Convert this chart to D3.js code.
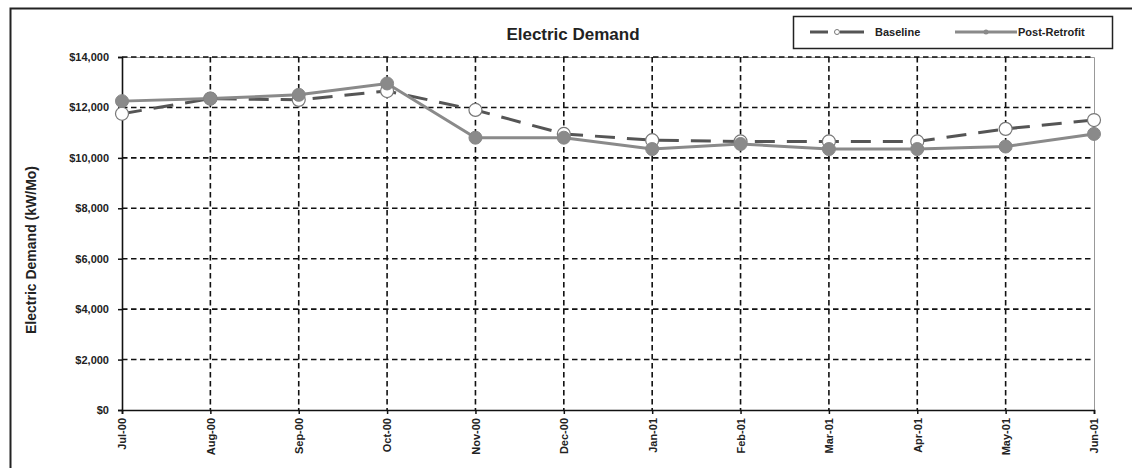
<!DOCTYPE html>
<html><head><meta charset="utf-8">
<script src="https://cdn.jsdelivr.net/npm/d3@7"></script>
<style>body{margin:0;background:#fff;} text{font-family:Arial,"Liberation Sans",sans-serif;}</style>
</head><body>
<svg id="c" width="1132" height="470"></svg>
<script>
const months = ["Jul-00","Aug-00","Sep-00","Oct-00","Nov-00","Dec-00","Jan-01","Feb-01","Mar-01","Apr-01","May-01","Jun-01"];
const baseline = [11750, 12350, 12300, 12650, 11900, 10950, 10700, 10650, 10650, 10650, 11150, 11500];
const postRetrofit = [12250, 12350, 12500, 12950, 10800, 10800, 10350, 10550, 10350, 10350, 10450, 10950];
const yTicks = [0, 2000, 4000, 6000, 8000, 10000, 12000, 14000];

const svg = d3.select("#c");
const L = 122, R = 1094, T = 57, B = 410;
const x = d3.scalePoint().domain(months).range([L, R]);
const y = d3.scaleLinear().domain([0, 14000]).range([B, T]);

// outer frame
svg.append("path").attr("d", "M10.5,468 V8.5 H1132").attr("fill","none").attr("stroke","#222").attr("stroke-width",2);

// plot border top/right
svg.append("path").attr("d", `M${L},${T+0.5} H${R+0.5} V${B}`).attr("fill","none").attr("stroke","#999").attr("stroke-width",1);

// gridlines
svg.append("g").selectAll("line").data(yTicks.filter(d=>d>0)).join("line")
  .attr("x1", L).attr("x2", R).attr("y1", d=>y(d)).attr("y2", d=>y(d))
  .attr("stroke","#111").attr("stroke-width",1.6).attr("stroke-dasharray","5.5,3.5");
svg.append("g").selectAll("line").data(months.slice(1, -1)).join("line")
  .attr("x1", d=>x(d)).attr("x2", d=>x(d)).attr("y1", T).attr("y2", B)
  .attr("stroke","#111").attr("stroke-width",1.6).attr("stroke-dasharray","5.5,3.5");

// axes
const yAxis = d3.axisLeft(y).tickValues(yTicks).tickSize(4).tickFormat(d => "$" + d3.format(",")(d));
const gy = svg.append("g").attr("transform", `translate(${L},0)`).call(yAxis);
gy.select(".domain").attr("stroke","#111").attr("stroke-width",1.6);
gy.selectAll(".tick line").attr("stroke","#111").attr("stroke-width",1.5);
gy.selectAll(".tick text").attr("x",-13).attr("font-size","11px").attr("font-weight","bold").attr("fill","#222");

const xAxis = d3.axisBottom(x).tickSize(4);
const gx = svg.append("g").attr("transform", `translate(0,${B})`).call(xAxis);
gx.select(".domain").attr("stroke","#111").attr("stroke-width",1.6);
gx.selectAll(".tick line").attr("stroke","#111").attr("stroke-width",1.5);
gx.selectAll(".tick text").attr("transform","rotate(-90)").attr("x",-8).attr("y",0).attr("dy","0.35em")
  .attr("text-anchor","end").attr("font-size","11px").attr("font-weight","bold").attr("fill","#222");

// title
svg.append("text").attr("x", 573).attr("y", 40).attr("text-anchor","middle")
  .attr("font-size","17px").attr("font-weight","bold").attr("fill","#222").text("Electric Demand");
// y title
svg.append("text").attr("transform","translate(36,250) rotate(-90)").attr("text-anchor","middle")
  .attr("font-size","14px").attr("font-weight","bold").attr("fill","#222").text("Electric Demand (kW/Mo)");

// lines
const line = d3.line().x((d,i)=>x(months[i])).y(d=>y(d));
svg.append("path").datum(baseline).attr("d", line).attr("fill","none")
  .attr("stroke","#555").attr("stroke-width",3).attr("stroke-dasharray","20,12");
svg.append("path").datum(postRetrofit).attr("d", line).attr("fill","none")
  .attr("stroke","#8a8a8a").attr("stroke-width",3);

// markers
svg.append("g").selectAll("circle").data(baseline).join("circle")
  .attr("cx",(d,i)=>x(months[i])).attr("cy",d=>y(d)).attr("r",6.5)
  .attr("fill","#fff").attr("stroke","#777").attr("stroke-width",1.2);
svg.append("g").selectAll("circle").data(postRetrofit).join("circle")
  .attr("cx",(d,i)=>x(months[i])).attr("cy",d=>y(d)).attr("r",6.5)
  .attr("fill","#8a8a8a").attr("stroke","#888");

// legend
const lg = svg.append("g");
lg.append("rect").attr("x",793.5).attr("y",16.5).attr("width",319).attr("height",32)
  .attr("fill","#fff").attr("stroke","#222").attr("stroke-width",1.5);
lg.append("line").attr("x1",810).attr("x2",828).attr("y1",32).attr("y2",32)
  .attr("stroke","#555").attr("stroke-width",3);
lg.append("line").attr("x1",840).attr("x2",864).attr("y1",32).attr("y2",32)
  .attr("stroke","#555").attr("stroke-width",3);
lg.append("circle").attr("cx",837).attr("cy",32).attr("r",2.5).attr("fill","#fff").attr("stroke","#777");
lg.append("text").attr("x",875).attr("y",36).attr("font-size","11px").attr("font-weight","bold").attr("fill","#222").text("Baseline");
lg.append("line").attr("x1",955).attr("x2",1017).attr("y1",32).attr("y2",32)
  .attr("stroke","#8a8a8a").attr("stroke-width",3);
lg.append("circle").attr("cx",986).attr("cy",32).attr("r",2.5).attr("fill","#8a8a8a");
lg.append("text").attr("x",1018).attr("y",36).attr("font-size","11px").attr("font-weight","bold").attr("fill","#222").text("Post-Retrofit");
</script>
</body></html>
